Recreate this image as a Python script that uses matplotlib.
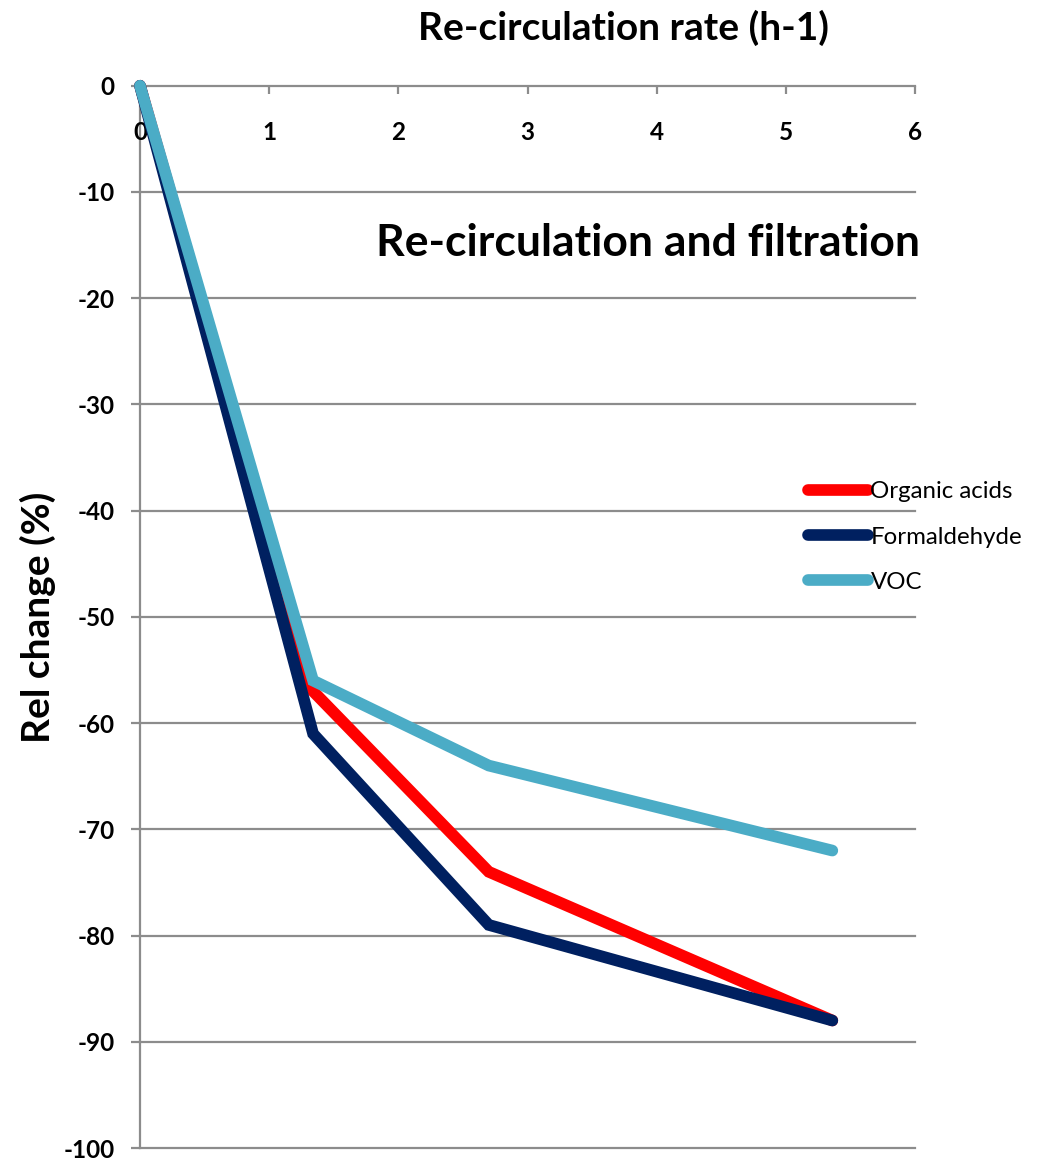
import matplotlib
matplotlib.use("Agg")
import matplotlib.pyplot as plt
from matplotlib.transforms import blended_transform_factory

# Re-circulation rate (h-1) and relative change (%) per pollutant group
rate = [0, 1.34, 2.7, 5.36]
organic_acids = [0, -57, -74, -88]
formaldehyde = [0, -61, -79, -88]
voc = [0, -56, -64, -72]

series_names = ["Organic acids", "Formaldehyde", "VOC"]
series_values = [organic_acids, formaldehyde, voc]
series_colors = ["#FF0000", "#002060", "#4BACC6"]

x_ticks = [0, 1, 2, 3, 4, 5, 6]
y_ticks = [0, -10, -20, -30, -40, -50, -60, -70, -80, -90, -100]

plt.rcParams["font.family"] = ["Lato", "DejaVu Sans"]

W, H = 1043, 1162
fig = plt.figure(figsize=(W / 100, H / 100), dpi=100)
left, right, top, bottom = 140, 915, 85.7, 1148
ax = fig.add_axes([left / W, 1 - bottom / H, (right - left) / W, (bottom - top) / H])

grid_color = "#8C8C8C"
ax.set_xlim(0, 6)
ax.set_ylim(-100, 0)

# horizontal gridlines, including the axis line at 0 and the floor at -100
for yv in y_ticks:
    ax.axhline(yv, color=grid_color, lw=1.6, zorder=1, clip_on=False)

for side in ["right", "bottom", "top"]:
    ax.spines[side].set_visible(False)
ax.spines["left"].set_color(grid_color)
ax.spines["left"].set_linewidth(1.6)

ax.set_yticks(y_ticks)
ax.set_yticklabels([str(v) for v in y_ticks], fontsize=17.5, fontweight="bold")
ax.tick_params(axis="y", direction="out", length=6.5, width=1.6, color=grid_color, pad=12)

# x axis sits at the top with ticks pointing down and labels just below the line
ax.xaxis.tick_top()
ax.set_xticks(x_ticks)
ax.set_xticklabels([])
ax.tick_params(axis="x", direction="in", length=6, width=1.6, color=grid_color)
trans = blended_transform_factory(ax.transData, ax.transAxes)
for xv in x_ticks:
    ax.text(xv, 1 - 47 / (bottom - top), str(xv), transform=trans, ha="center", va="center",
            fontsize=17.5, fontweight="bold")

handles = []
for name, vals, col in zip(series_names, series_values, series_colors):
    h, = ax.plot(rate, vals, color=col, lw=8.4, solid_capstyle="round",
                 solid_joinstyle="miter", label=name, zorder=3, clip_on=False)
    handles.append(h)

fig.legend(handles=handles, labels=series_names, loc="center left",
           bbox_to_anchor=(808 / W, 1 - 537 / H), frameon=False, fontsize=17.3,
           handlelength=2.5, handletextpad=0.1, labelspacing=1.0, borderpad=0,
           borderaxespad=0)

fig.text(624 / W, 1 - 28 / H, "Re-circulation rate (h-1)", ha="center", va="center",
         fontsize=28, fontweight="bold")
fig.text(920 / W, 1 - 243 / H, "Re-circulation and filtration", ha="right", va="center",
         fontsize=32, fontweight="bold")
fig.text(38 / W, 1 - 617 / H, "Rel change (%)", ha="center", va="center",
         rotation=90, fontsize=28, fontweight="bold")

fig.savefig("out.png", dpi=100)
